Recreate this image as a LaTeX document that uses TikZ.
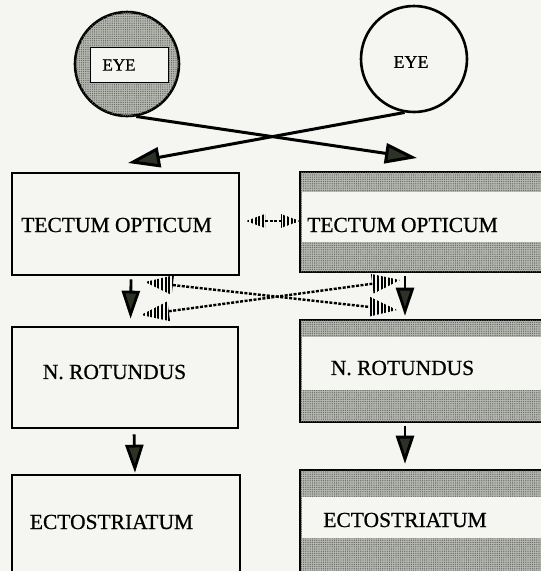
\documentclass[tikz,border=0pt]{standalone}
\usepackage{fontspec}
\setmainfont{Liberation Serif}
\newfontfamily\heavyserif{Liberation Serif}[FakeBold=0.7]
\usetikzlibrary{arrows.meta,calc,patterns,patterns.meta}
\definecolor{bg}{RGB}{245,245,241}
\definecolor{shade}{RGB}{182,184,178}
\definecolor{dotc}{RGB}{95,97,92}
\definecolor{headc}{RGB}{45,50,38}
\tikzset{
  shadefill/.style={fill=shade, postaction={pattern={Dots[distance=2.2pt,radius=0.65pt]}, pattern color=dotc}},
  boxw/.style={draw, line width=2.6pt, fill=bg, inner sep=0pt},
  boxg/.style={draw, line width=2.6pt, shadefill, inner sep=0pt},
  band/.style={fill=bg, inner sep=0pt},
  lbl/.style={font=\heavyserif\fontsize{21.5}{24}\selectfont, inner sep=0pt},
  eyelbl/.style={font=\heavyserif\fontsize{17}{19}\selectfont, inner sep=0pt},
  eyearrow/.style={line width=3pt, -{Triangle[length=32pt,width=20pt,fill=headc]}},
  downarrow/.style={line width=2.8pt, -{Triangle[length=28pt,width=18pt,fill=headc]}},
  dline/.style={line width=2.4pt, dash pattern=on 3pt off 1.5pt},
  stripefill/.style={pattern={Lines[angle=90,distance=3.6pt,line width=2pt]}, pattern color=black},
}
\newcommand\stripearrow[4]{%
  \coordinate (#1-base) at ($(#1)!#3!(#2)$);
  \coordinate (#2-base) at ($(#2)!#3!(#1)$);
  \draw[dline] (#1-base) -- (#2-base);
  \fill[stripefill] (#1) -- ($(#1-base)!#4!90:(#1)$) -- ($(#1-base)!#4!-90:(#1)$) -- cycle;
  \fill[stripefill] (#2) -- ($(#2-base)!#4!90:(#2)$) -- ($(#2-base)!#4!-90:(#2)$) -- cycle;
}
\begin{document}
\begin{tikzpicture}[x=1pt,y=-1pt]
\useasboundingbox (0,0) rectangle (541,571);
\clip (0,0) rectangle (541,571);
\fill[bg] (0,0) rectangle (541,571);

% eyes
\node[circle, draw, line width=2.6pt, shadefill, minimum size=104pt, inner sep=0pt] (le) at (127,64) {};
\node[draw, line width=1pt, fill=bg, minimum width=78pt, minimum height=35pt, inner sep=0pt] (leb) at (129,64.5) {};
\node[eyelbl] (let) at (119,65) {EYE};
\node[circle, draw, line width=2.6pt, fill=bg, minimum size=106pt, inner sep=0pt] (re) at (414,59) {};
\node[eyelbl, font=\heavyserif\fontsize{18}{20}\selectfont] (ret) at (411,62) {EYE};

% left column boxes
\node[boxw, minimum width=227pt, minimum height=102pt] (lt) at (125.5,224) {};
\node[lbl] (ltt) at (116.5,225) {TECTUM OPTICUM};
\node[boxw, minimum width=226pt, minimum height=101pt] (lr) at (125,377.5) {};
\node[lbl] (lrt) at (114.5,372) {N. ROTUNDUS};
\node[boxw, minimum width=228pt, minimum height=125pt] (lc) at (126,537.5) {};
\node[lbl] (lct) at (111.5,522) {ECTOSTRIATUM};

% right column boxes
\node[boxg, minimum width=260pt, minimum height=100pt] (rt) at (430,222) {};
\node[band, minimum width=258pt, minimum height=50pt] (rtb) at (431,217) {};
\node[lbl] (rtt) at (402.5,225) {TECTUM OPTICUM};
\node[boxg, minimum width=260pt, minimum height=102pt] (rr) at (430,371) {};
\node[band, minimum width=258pt, minimum height=53pt] (rrb) at (431,363.5) {};
\node[lbl] (rrt) at (402.5,368) {N. ROTUNDUS};
\node[boxg, minimum width=260pt, minimum height=130pt] (rc) at (430,535) {};
\node[band, minimum width=258pt, minimum height=41pt] (rcb) at (431,517.5) {};
\node[lbl] (rct) at (405,520) {ECTOSTRIATUM};

% crossing eye projections
\coordinate (tipR) at (417,158);
\coordinate (tipL) at (128,163);
\draw[eyearrow] (le.-80) -- (tipR);
\draw[eyearrow] (re.-100) -- (tipL);

% vertical projections
\draw[downarrow, shorten <=3pt, shorten >=7pt] ([xshift=5.5pt]lt.south) -- ([xshift=5.5pt]lr.north);
\draw[downarrow, shorten <=5pt, shorten >=1pt] ([xshift=9pt]lr.south) -- ([xshift=9pt]lc.north);
\draw[downarrow, shorten <=3pt, shorten >=3pt] ([xshift=-25pt]rt.south) -- ([xshift=-25pt]rr.north);
\draw[downarrow, shorten <=3pt, shorten >=5pt] ([xshift=-25pt]rr.south) -- ([xshift=-25pt]rc.north);

% dashed reciprocal connections
\coordinate (d3a) at (246,221);
\coordinate (d3b) at (300,221);
\stripearrow{d3a}{d3b}{19pt}{7pt}
\coordinate (d1a) at (145,282);
\coordinate (d1b) at (397,310);
\stripearrow{d1a}{d1b}{28pt}{10pt}
\coordinate (d2a) at (141,315);
\coordinate (d2b) at (400,280);
\stripearrow{d2a}{d2b}{28pt}{10pt}
\end{tikzpicture}
\end{document}
